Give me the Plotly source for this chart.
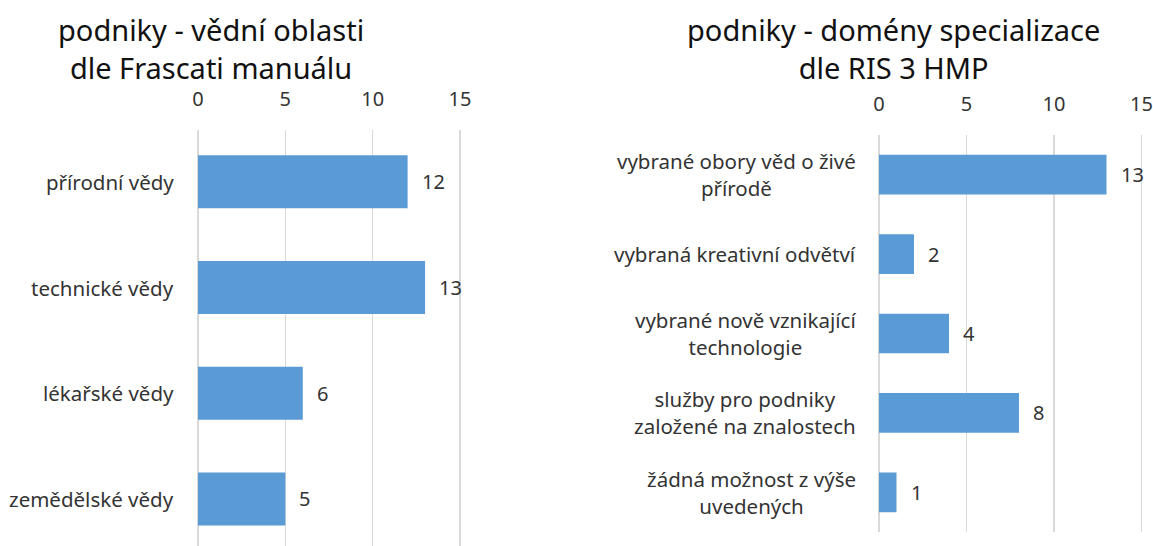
import plotly.graph_objects as go

W, H = 1153, 546

left_title = "podniky - vědní oblasti<br>dle Frascati manuálu"
left_cats = ["přírodní vědy", "technické vědy", "lékařské vědy", "zemědělské vědy"]
left_vals = [12, 13, 6, 5]

right_title = "podniky - domény specializace<br>dle RIS 3 HMP"
right_cats = ["vybrané obory věd o živé<br>přírodě", "vybraná kreativní odvětví",
              "vybrané nově vznikající<br>technologie", "služby pro podniky<br>založené na znalostech",
              "žádná možnost z výše<br>uvedených"]
right_vals = [13, 2, 4, 8, 1]

x_ticks = [0, 5, 10, 15]

FONT = "Noto Sans"
BAR = "#5B9BD5"
TXT = "#333333"
GRID = "#D9D9D9"

def px(x):
    return x / W

def py(y):
    return 1 - y / H

fig = go.Figure()
fig.add_trace(go.Bar(y=list(range(len(left_cats))), x=left_vals, orientation="h",
                     marker=dict(color=BAR, line=dict(width=0)), width=0.5,
                     xaxis="x", yaxis="y", hoverinfo="skip"))
fig.add_trace(go.Bar(y=list(range(len(right_cats))), x=right_vals, orientation="h",
                     marker=dict(color=BAR, line=dict(width=0)), width=0.5,
                     xaxis="x2", yaxis="y2", hoverinfo="skip"))

annotations = []
for i, v in enumerate(left_vals):
    annotations.append(dict(x=v, y=i, xref="x", yref="y", text=str(v), showarrow=False,
                            xanchor="left", xshift=12, font=dict(size=20, color=TXT, family=FONT)))
for i, v in enumerate(right_vals):
    annotations.append(dict(x=v, y=i, xref="x2", yref="y2", text=str(v), showarrow=False,
                            xanchor="left", xshift=12, font=dict(size=20, color=TXT, family=FONT)))
for i, c in enumerate(left_cats):
    annotations.append(dict(x=px(176), y=i, xref="paper", yref="y", text=c, showarrow=False,
                            xanchor="right", align="center", font=dict(size=20.5, color=TXT, family=FONT)))
for i, c in enumerate(right_cats):
    annotations.append(dict(x=px(858), y=i, xref="paper", yref="y2", text=c, showarrow=False,
                            xanchor="right", align="center", font=dict(size=20.5, color=TXT, family=FONT)))

annotations.append(dict(x=px(211), y=py(48), xref="paper", yref="paper", text=left_title,
                        showarrow=False, align="center", xanchor="center", yanchor="middle",
                        font=dict(size=29, color="#111111", family=FONT)))
annotations.append(dict(x=px(894), y=py(48), xref="paper", yref="paper", text=right_title,
                        showarrow=False, align="center", xanchor="center", yanchor="middle",
                        font=dict(size=29, color="#111111", family=FONT)))

E = 0.08
xaxis_common = dict(range=[-E, 15 + E], tickvals=x_ticks, side="top", showgrid=True,
                    gridcolor=GRID, gridwidth=1.5, zeroline=False, showline=False,
                    ticks="", ticklabelstandoff=19, automargin=False,
                    tickfont=dict(size=20, color=TXT, family=FONT), fixedrange=True)

def dom(x0, x15):
    u = (x15 - x0) / 15.0
    return [px(x0 - E * u), px(x15 + E * u)]

fig.update_layout(
    width=W, height=H,
    margin=dict(l=0, r=0, t=0, b=0, autoexpand=False),
    paper_bgcolor="white", plot_bgcolor="white",
    showlegend=False,
    font=dict(family=FONT, color=TXT),
    xaxis=dict(domain=dom(198, 460), anchor="y", **xaxis_common),
    yaxis=dict(domain=[0, py(130)], anchor="x", range=[3.445, -0.49], automargin=False,
               showticklabels=False, showgrid=False, zeroline=False, showline=False, ticks=""),
    xaxis2=dict(domain=dom(879, 1141.5), anchor="y2", **xaxis_common),
    yaxis2=dict(domain=[py(532), py(135)], anchor="x2", range=[4.5, -0.5], automargin=False,
                showticklabels=False, showgrid=False, zeroline=False, showline=False, ticks=""),
    annotations=annotations,
    bargap=0.5,
)

fig.write_html("out.html", config={"displayModeBar": False, "staticPlot": True},
               post_script="document.body.style.margin='0';document.body.style.overflow='hidden';")
